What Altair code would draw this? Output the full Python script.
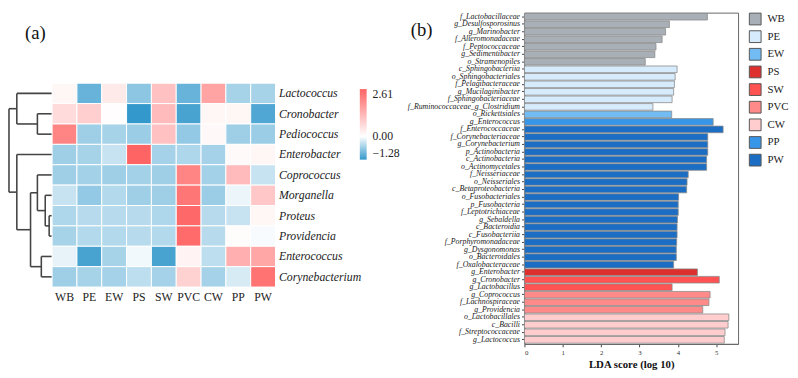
import altair as alt
import pandas as pd

# ---------------- (a) heatmap data ----------------
samples = ["WB", "PE", "EW", "PS", "SW", "PVC", "CW", "PP", "PW"]
genera = ["Lactococcus", "Cronobacter", "Pediococcus", "Enterobacter", "Coprococcus",
          "Morganella", "Proteus", "Providencia", "Enterococcus", "Corynebacterium"]
z_lactococcus = [0.15, -0.95, 0.35, -0.72, 1.05, -0.95, 1.55, -0.55, -0.55]
z_cronobacter = [0.60, 0.80, 0.03, -1.28, 1.15, -1.15, 0.15, 0.15, -1.10]
z_pediococcus = [2.05, -0.60, -0.55, -0.63, 1.05, -0.68, 0.12, -0.60, -0.63]
z_enterobacter = [-0.60, -0.55, -0.35, 2.61, -0.56, -0.50, -0.56, 0.08, 0.15]
z_coprococcus = [-0.60, -0.58, -0.60, -0.58, -0.60, 2.05, -0.58, 1.15, -0.35]
z_morganella = [-0.35, -0.68, -0.48, -0.60, -0.60, 2.30, -0.63, -0.12, 0.95]
z_proteus = [-0.50, -0.45, -0.45, -0.45, -0.50, 2.55, -0.45, -0.35, 0.15]
z_providencia = [-0.55, -0.48, -0.48, -0.45, -0.48, 2.50, -0.45, 0.05, -0.05]
z_enterococcus = [-0.15, -1.15, -0.55, -0.08, -1.15, 0.20, -0.42, 1.35, 1.50]
z_corynebacterium = [-0.60, -0.55, -0.56, -0.42, -0.56, 0.75, -0.56, -0.25, 2.35]
heat_rows = [z_lactococcus, z_cronobacter, z_pediococcus, z_enterobacter, z_coprococcus,
             z_morganella, z_proteus, z_providencia, z_enterococcus, z_corynebacterium]
color_ticks = [-1.28, 0.0, 2.61]

# dendrogram linkage: (child a, child b, height); 0-9 are rows, 10+ earlier merges
linkage = [
    (6, 7, 3),
    (5, 10, 7),
    (4, 11, 15),
    (8, 9, 11),
    (12, 13, 22),
    (3, 14, 36),
    (1, 2, 15),
    (0, 16, 36),
    (17, 15, 44),
]

# ---------------- (b) LDA data ----------------
features = [
    "f_Lactobacillaceae", "g_Desulfosporosinus", "g_Marinobacter", "f_Alteromonadaceae",
    "f_Peptococcaceae", "g_Sedimentibacter", "o_Stramenopiles",
    "c_Sphingobacteriia", "o_Sphingobacteriales", "f_Pelagibacteraceae", "g_Mucilaginibacter",
    "f_Sphingobacteriaceae", "f_Ruminococcaceae_g_Clostridium",
    "o_Rickettsiales",
    "g_Enterococcus",
    "f_Enterococcaceae", "f_Corynebacteriaceae", "g_Corynebacterium", "p_Actinobacteria",
    "c_Actinobacteria", "o_Actinomycetales", "f_Neisseriaceae", "o_Neisseriales",
    "c_Betaproteobacteria", "o_Fusobacteriales", "p_Fusobacteria", "f_Leptotrichiaceae",
    "g_Sebaldella", "c_Bacteroidia", "c_Fusobacteriia", "f_Porphyromonadaceae",
    "g_Dysgonomonas", "o_Bacteroidales", "f_Oxalobacteraceae",
    "g_Enterobacter",
    "g_Cronobacter", "g_Lactobacillus",
    "g_Coprococcus", "f_Lachnospiraceae", "g_Providencia",
    "o_Lactobacillales", "c_Bacilli", "f_Streptococcaceae", "g_Lactococcus",
]
lda = [
    4.77, 3.78, 3.68, 3.59, 3.43, 3.40, 3.15,
    3.98, 3.93, 3.91, 3.89, 3.85, 3.35,
    3.84,
    4.92,
    5.18, 4.78, 4.78, 4.78, 4.75, 4.75, 4.27, 4.24, 4.23, 4.02, 4.01, 4.01,
    3.99, 3.98, 3.98, 3.97, 3.96, 3.96, 3.89,
    4.51,
    5.08, 3.85,
    4.84, 4.81, 4.65,
    5.33, 5.31, 5.23, 5.21,
]
feature_group = (["WB"] * 7 + ["PE"] * 6 + ["EW"] * 1 + ["PP"] * 1 + ["PW"] * 19
                 + ["PS"] * 1 + ["SW"] * 2 + ["PVC"] * 3 + ["CW"] * 4)
group_order = ["WB", "PE", "EW", "PS", "SW", "PVC", "CW", "PP", "PW"]
group_colors = ["#a9afb6", "#d6ebfb", "#72bbf3", "#de2f2f", "#ff5252",
                "#ff8a8a", "#ffcdcd", "#3896e8", "#1b6ec3"]
panel_labels = ["(a)", "(b)"]

SERIF = "Liberation Serif"

# ---------------- build tables ----------------
heat_df = pd.DataFrame([
    {"genus": g, "sample": s, "z": heat_rows[i][j]}
    for i, g in enumerate(genera) for j, s in enumerate(samples)
])

pos = {i: i + 0.5 for i in range(len(genera))}
hgt = {i: 0.0 for i in range(len(genera))}
segs = []
for k, (a, b, h) in enumerate(linkage):
    n = len(genera) + k
    segs.append({"x": h, "x2": h, "y": pos[a], "y2": pos[b]})
    segs.append({"x": hgt[a], "x2": h, "y": pos[a], "y2": pos[a]})
    segs.append({"x": hgt[b], "x2": h, "y": pos[b], "y2": pos[b]})
    pos[n] = (pos[a] + pos[b]) / 2
    hgt[n] = h
dendro_df = pd.DataFrame(segs)

bar_df = pd.DataFrame({"feature": features, "lda": lda, "group": feature_group})

# ---------------- charts ----------------
no_frame = alt.ViewBackground(stroke=None)

spacer = alt.Chart(pd.DataFrame({"t": [panel_labels[0]]})).mark_text(
    font=SERIF, fontSize=19, color="#111", align="center", baseline="middle"
).encode(
    x=alt.value(27), y=alt.value(21), text="t:N"
).properties(width=272, height=72, view=no_frame)

dendro = alt.Chart(dendro_df).mark_rule(color="#444444", strokeWidth=1.6).encode(
    x=alt.X("x:Q", scale=alt.Scale(domain=[0, 44], reverse=True, nice=False, zero=False), axis=None),
    x2="x2:Q",
    y=alt.Y("y:Q", scale=alt.Scale(domain=[0, 10], reverse=True, nice=False, zero=False), axis=None),
    y2="y2:Q",
).properties(width=44, height=208, view=no_frame)

heat = alt.Chart(heat_df).mark_rect(stroke="white", strokeWidth=1).encode(
    x=alt.X("sample:N", sort=samples, title=None,
            axis=alt.Axis(orient="bottom", labelAngle=0, ticks=False, domain=False,
                          labelFont=SERIF, labelFontSize=12, labelColor="#222", labelPadding=5)),
    y=alt.Y("genus:N", sort=genera, title=None,
            axis=alt.Axis(orient="right", ticks=False, domain=False, labelFont=SERIF,
                          labelFontSize=12, labelFontStyle="italic", labelColor="#222",
                          labelPadding=3)),
    color=alt.Color("z:Q",
                    scale=alt.Scale(domain=[color_ticks[0], 0, color_ticks[2]],
                                    range=["#3399cc", "#ffffff", "#ff6464"], interpolate="rgb"),
                    legend=alt.Legend(orient="none", legendX=358, legendY=78, title=None,
                                      direction="vertical", gradientLength=72,
                                      gradientThickness=7, values=color_ticks, format=".2f",
                                      labelFont=SERIF, labelFontSize=12, labelColor="#222",
                                      labelOffset=6, gradientStrokeWidth=0,
                                      labelOverlap=False)),
).properties(width=228, height=208, view=no_frame)

bars = alt.Chart(bar_df).mark_bar(stroke="#8a8a8a", strokeWidth=0.8).encode(
    y=alt.Y("feature:N", sort=features, title=None,
            scale=alt.Scale(paddingInner=0.12, paddingOuter=0.1),
            axis=alt.Axis(labelFont=SERIF, labelFontSize=8, labelFontStyle="italic",
                          labelColor="#222", tickSize=3, tickColor="#444", domainColor="#666",
                          labelPadding=2)),
    x=alt.X("lda:Q", scale=alt.Scale(domain=[0, 5.57], nice=False),
            title="LDA score (log 10)",
            axis=alt.Axis(values=[0, 1, 2, 3, 4, 5], grid=False, labelFont=SERIF,
                          labelFontSize=7, labelColor="#333", tickSize=3, tickColor="#444",
                          domainColor="#666", titleFont=SERIF, titleFontSize=11,
                          titleFontWeight="bold", titleColor="#111", titlePadding=3)),
    color=alt.Color("group:N", scale=alt.Scale(domain=group_order, range=group_colors),
                    legend=alt.Legend(orient="none", legendX=229, legendY=0, title=None,
                                      symbolType="square", symbolSize=144,
                                      symbolStrokeColor="#555555", symbolStrokeWidth=1,
                                      symbolOpacity=1, labelFont=SERIF, labelFontSize=11,
                                      labelColor="#222", rowPadding=1, labelOffset=6)),
)

b_label = alt.Chart(pd.DataFrame({"t": [panel_labels[1]]})).mark_text(
    font=SERIF, fontSize=19, color="#111", align="center", baseline="middle"
).encode(x=alt.value(-105), y=alt.value(18), text="t:N")

right = alt.layer(bars, b_label).properties(width=218, height=338)

left_bottom = alt.hconcat(dendro, heat, spacing=0, bounds="flush")
left = alt.vconcat(spacer, left_bottom, spacing=0, bounds="flush")

chart = alt.hconcat(left, right, spacing=6).resolve_scale(
    color="independent"
).properties(padding=0).configure_view(stroke="#666666", strokeWidth=1)

chart.save("out.html", embed_options={"renderer": "svg", "actions": False})
